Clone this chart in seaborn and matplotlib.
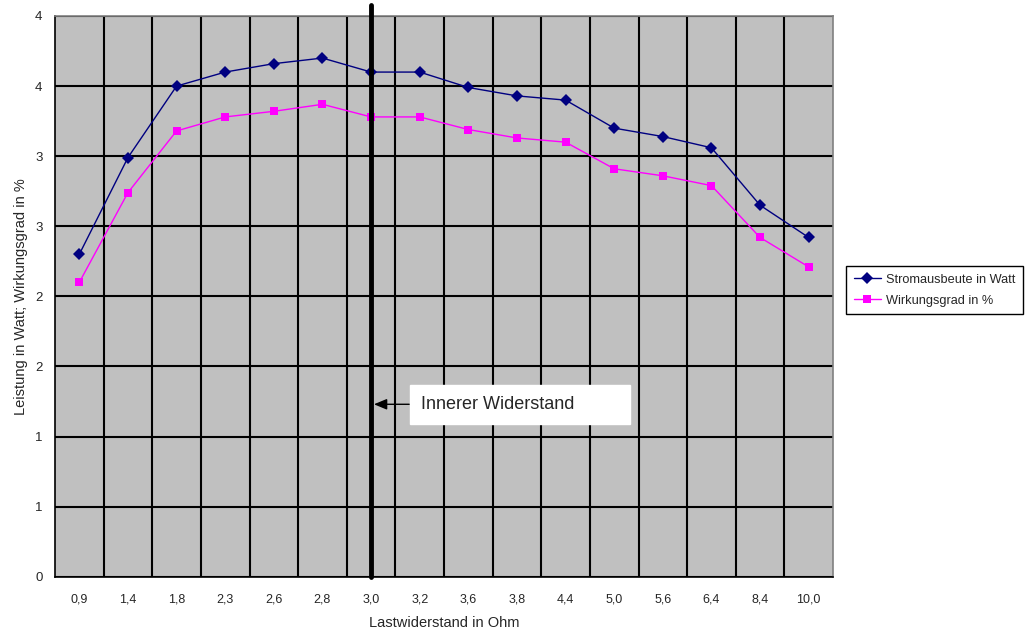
import numpy as np
import pandas as pd
import matplotlib
matplotlib.use("Agg")
import matplotlib.pyplot as plt
import seaborn as sns

# --- DATA ---
widerstand = ["0,9", "1,4", "1,8", "2,3", "2,6", "2,8", "3,0", "3,2",
              "3,6", "3,8", "4,4", "5,0", "5,6", "6,4", "8,4", "10,0"]
strom = [2.30, 2.99, 3.50, 3.60, 3.66, 3.70, 3.60, 3.60,
         3.49, 3.43, 3.40, 3.20, 3.14, 3.06, 2.65, 2.42]
wirkung = [2.10, 2.74, 3.18, 3.28, 3.32, 3.37, 3.28, 3.28,
           3.19, 3.13, 3.10, 2.91, 2.86, 2.79, 2.42, 2.21]
y_ticks = [0, 0.5, 1, 1.5, 2, 2.5, 3, 3.5, 4]
y_tick_labels = ["0", "1", "1", "2", "2", "3", "3", "4", "4"]
innerer_idx = widerstand.index("3,0")

S1 = "Stromausbeute in Watt"
S2 = "Wirkungsgrad in %"

df = pd.DataFrame({
    "pos": list(range(len(widerstand))) * 2,
    "wert": strom + wirkung,
    "serie": [S1] * len(strom) + [S2] * len(wirkung),
})

sns.set_style("white")
plt.rcParams["font.family"] = ["Liberation Sans", "DejaVu Sans"]

fig = plt.figure(figsize=(10.31, 6.34), dpi=100)
ax = fig.add_axes([55 / 1031, 57.3 / 634, 778 / 1031, 560.7 / 634])
ax.set_facecolor("#C0C0C0")

sns.lineplot(data=df, x="pos", y="wert", hue="serie", style="serie",
             palette={S1: "#000080", S2: "#FF00FF"},
             markers={S1: "D", S2: "s"}, dashes=False,
             markersize=6, markeredgewidth=0, linewidth=1,
             ax=ax, zorder=4)

# grid: vertical lines between categories, horizontal at every 0.5
n = len(widerstand)
ax.set_xlim(-0.5, n - 0.5)
ax.set_ylim(0, 4)
ax.set_xticks(range(n))
ax.set_xticklabels(widerstand, fontsize=9)
ax.set_xticks(np.arange(0.5, n - 0.5, 1), minor=True)
ax.set_yticks(y_ticks)
ax.set_yticklabels(y_tick_labels, fontsize=9.5)
ax.grid(False)
ax.grid(axis="x", which="minor", color="black", linewidth=1.5)
ax.grid(axis="y", which="major", color="black", linewidth=1.5)
ax.set_axisbelow(True)
ax.tick_params(axis="x", which="major", length=0, pad=12)
ax.tick_params(axis="x", which="minor", length=5, width=1.2,
               color="black", direction="out")
ax.tick_params(axis="y", which="major", length=5, width=1.2,
               color="black", direction="out", pad=4)

for side in ["left", "bottom"]:
    ax.spines[side].set_color("black")
    ax.spines[side].set_linewidth(1.2)
for side in ["top", "right"]:
    ax.spines[side].set_color("#808080")
    ax.spines[side].set_linewidth(1.2)

ax.set_xlabel("Lastwiderstand in Ohm", fontsize=10.5, labelpad=8)
ax.set_ylabel("Leistung in Watt; Wirkungsgrad in %", fontsize=10.5, labelpad=5)

# inner resistance marker
ax.axvline(innerer_idx, ymin=0, ymax=1.02, color="black", linewidth=3.5,
           clip_on=False, zorder=5)
ax.annotate("Innerer Widerstand         ", xy=(innerer_idx + 0.06, 1.23),
            xytext=(innerer_idx + 1.02, 1.23), fontsize=13,
            ha="left", va="center", zorder=6,
            bbox=dict(boxstyle="square,pad=0.6", fc="white", ec="white"),
            arrowprops=dict(arrowstyle="-|>,head_length=0.6,head_width=0.25",
                            color="black", lw=1, shrinkA=0, shrinkB=0))

ax.legend(loc="upper left", bbox_to_anchor=(846 / 1031, (634 - 266) / 634),
          bbox_transform=fig.transFigure, fontsize=9.2, frameon=True,
          fancybox=False, edgecolor="black", framealpha=1,
          handlelength=2.1, borderpad=0.6, labelspacing=0.7,
          handletextpad=0.4, borderaxespad=0,
          title=None).get_frame().set_linewidth(1)

fig.savefig("out.png", dpi=100)
